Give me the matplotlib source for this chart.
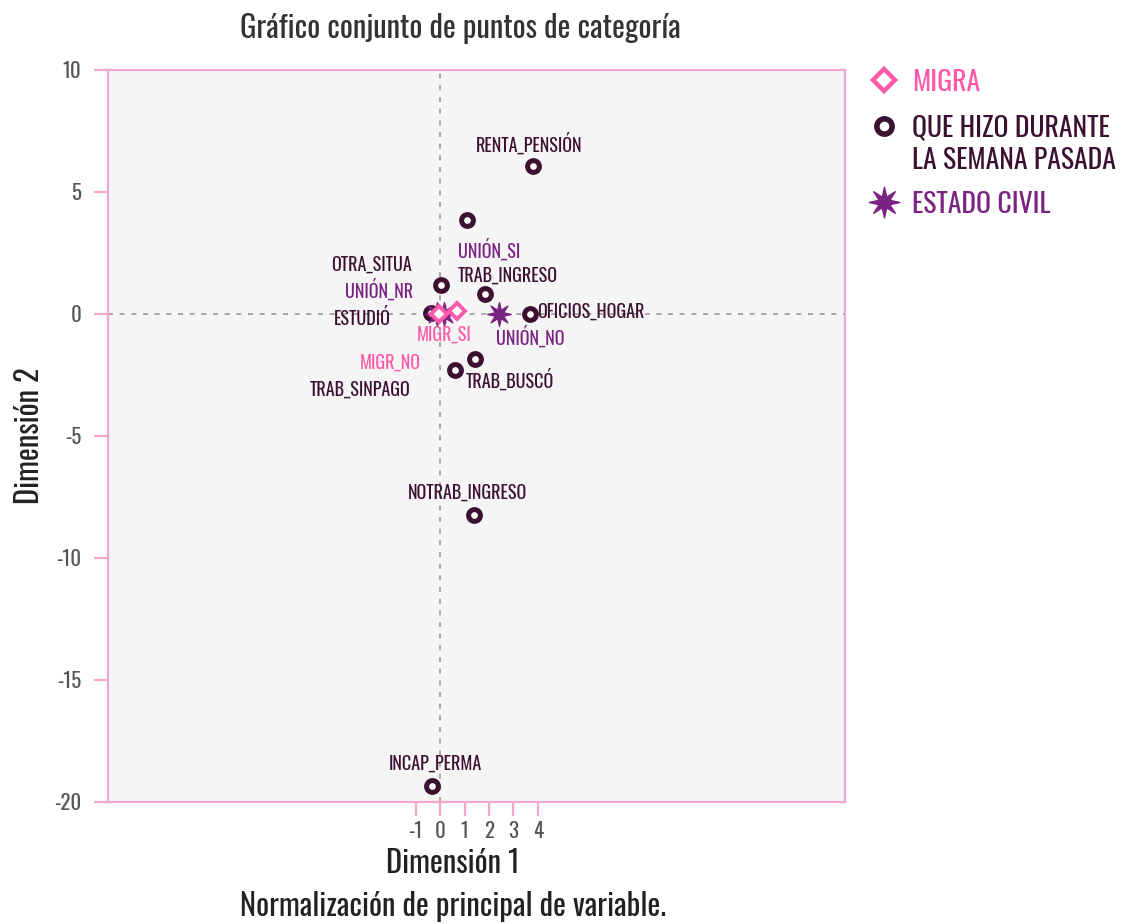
import numpy as np
import matplotlib
matplotlib.use('Agg')
import matplotlib.pyplot as plt
from matplotlib.lines import Line2D
from matplotlib.path import Path

plt.rcParams['font.family'] = ['Oswald', 'Roboto Condensed', 'DejaVu Sans']

# categories and coordinates (dimension 1, dimension 2)
migra_cats = ['MIGR_SI', 'MIGR_NO']
migra_d1 = [0.68, -0.05]
migra_d2 = [0.12, -0.01]

hizo_cats = ['RENTA_PENSIÓN', '', 'OTRA_SITUA', 'TRAB_INGRESO', 'OFICIOS_HOGAR',
             'ESTUDIÓ', 'TRAB_BUSCÓ', 'TRAB_SINPAGO', 'NOTRAB_INGRESO', 'INCAP_PERMA']
hizo_d1 = [3.80, 1.10, 0.04, 1.84, 3.67, -0.37, 1.43, 0.61, 1.39, -0.33]
hizo_d2 = [6.07, 3.85, 1.19, 0.82, 0.00, 0.04, -1.84, -2.30, -8.24, -19.34]

civil_cats = ['UNIÓN_SI', 'UNIÓN_NR', 'UNIÓN_NO']
civil_d1 = [0.15, -0.12, 2.40]
civil_d2 = [0.02, 0.00, 0.00]

xticks = [-1, 0, 1, 2, 3, 4]
yticks = [-20, -15, -10, -5, 0, 5, 10]

legend_names = ['MIGRA', 'QUE HIZO DURANTE\nLA SEMANA PASADA', 'ESTADO CIVIL']

# label offsets in pixels (repel-like placement)
off_migra = {'MIGR_SI': (-13, -24), 'MIGR_NO': (-49, -48)}
off_hizo = {'RENTA_PENSIÓN': (-4, 22), 'OTRA_SITUA': (-70, 20), 'TRAB_INGRESO': (23, 18),
            'OFICIOS_HOGAR': (61, 2), 'ESTUDIÓ': (-69, -5), 'TRAB_BUSCÓ': (35, -21),
            'TRAB_SINPAGO': (-95, -20), 'NOTRAB_INGRESO': (-7, 22), 'INCAP_PERMA': (3, 22)}
off_civil = {'UNIÓN_SI': (45, 64), 'UNIÓN_NR': (-58, 24), 'UNIÓN_NO': (31, -23)}

c_pink = '#FF5AAA'
c_dark = '#3B1030'
c_purple = '#7A2382'
c_spine = '#F2A8CA'
c_tick = '#555555'

star = Path.unit_regular_star(8, 0.38)

W, H = 1121, 924
fig = plt.figure(figsize=(W / 100, H / 100), dpi=100)
ax = fig.add_axes([108/W, 122/H, 737/W, 732/H])
ax.set_facecolor('#F5F5F5')

ax.axhline(0, color='#9a9a9a', ls=(0, (3, 4)), lw=1.2, zorder=1)
ax.axvline(0, color='#9a9a9a', ls=(0, (3, 4)), lw=1.2, zorder=1)

ax.plot(hizo_d1, hizo_d2, 'o', ms=8.5, mfc='white', mec=c_dark, mew=3.6, ls='none', zorder=3)
ax.plot(civil_d1, civil_d2, marker=star, ms=17, color=c_purple, ls='none', zorder=4)
ax.plot(migra_d1, migra_d2, 'D', ms=8, mfc='white', mec=c_pink, mew=2.8, ls='none', zorder=5)

def labels(cats, d1, d2, offs, color):
    for c, x, y in zip(cats, d1, d2):
        if c == '':
            continue
        dx, dy = offs[c]
        ax.annotate(c, (x, y), xytext=(dx, dy), textcoords='offset pixels',
                    ha='center', va='center', fontsize=13, color=color, zorder=6)

labels(hizo_cats, hizo_d1, hizo_d2, off_hizo, c_dark)
labels(civil_cats, civil_d1, civil_d2, off_civil, c_purple)
labels(migra_cats, migra_d1, migra_d2, off_migra, c_pink)

ax.set_xlim(-13.58, 16.56)
ax.set_ylim(-20, 10)
ax.set_xticks(xticks)
ax.set_yticks(yticks)
ax.set_xticklabels([str(t) for t in xticks])
ax.set_yticklabels([str(t) for t in yticks])
ax.tick_params(colors=c_spine, labelcolor=c_tick, labelsize=15, length=10, width=1.6)
ax.tick_params(axis='x', pad=4)
ax.tick_params(axis='y', pad=9)
for s in ax.spines.values():
    s.set_color(c_spine)
    s.set_linewidth(1.6)

ax.set_xlabel('Dimensión 1\nNormalización de principal de variable.', fontsize=22,
              color='#222222', linespacing=1.45, labelpad=5)
ax.xaxis.label.set_x(0.468)
ax.set_ylabel('Dimensión 2', fontsize=22, color='#222222', labelpad=7)
fig.text(460/W, 1 - 29/H, 'Gráfico conjunto de puntos de categoría', fontsize=22,
         color='#333333', ha='center', va='center')

# legend drawn by hand so the marker sits on the first text line
leg_styles = [
    dict(marker='D', ms=11, mfc='white', mec=c_pink, mew=3.2),
    dict(marker='o', ms=11, mfc='white', mec=c_dark, mew=4),
    dict(marker=star, ms=22, color=c_purple),
]
leg_colors = [c_pink, c_dark, c_purple]
leg_y = [80, 126, 202]
for name, st, col, y in zip(legend_names, leg_styles, leg_colors, leg_y):
    fig.add_artist(Line2D([884/W], [1 - y/H], transform=fig.transFigure, ls='none', **st))
    fig.text(912/W, 1 - (y - 11)/H, name, fontsize=20, color=col, ha='left', va='top',
             linespacing=1.22)

fig.savefig('out.png', dpi=100)
